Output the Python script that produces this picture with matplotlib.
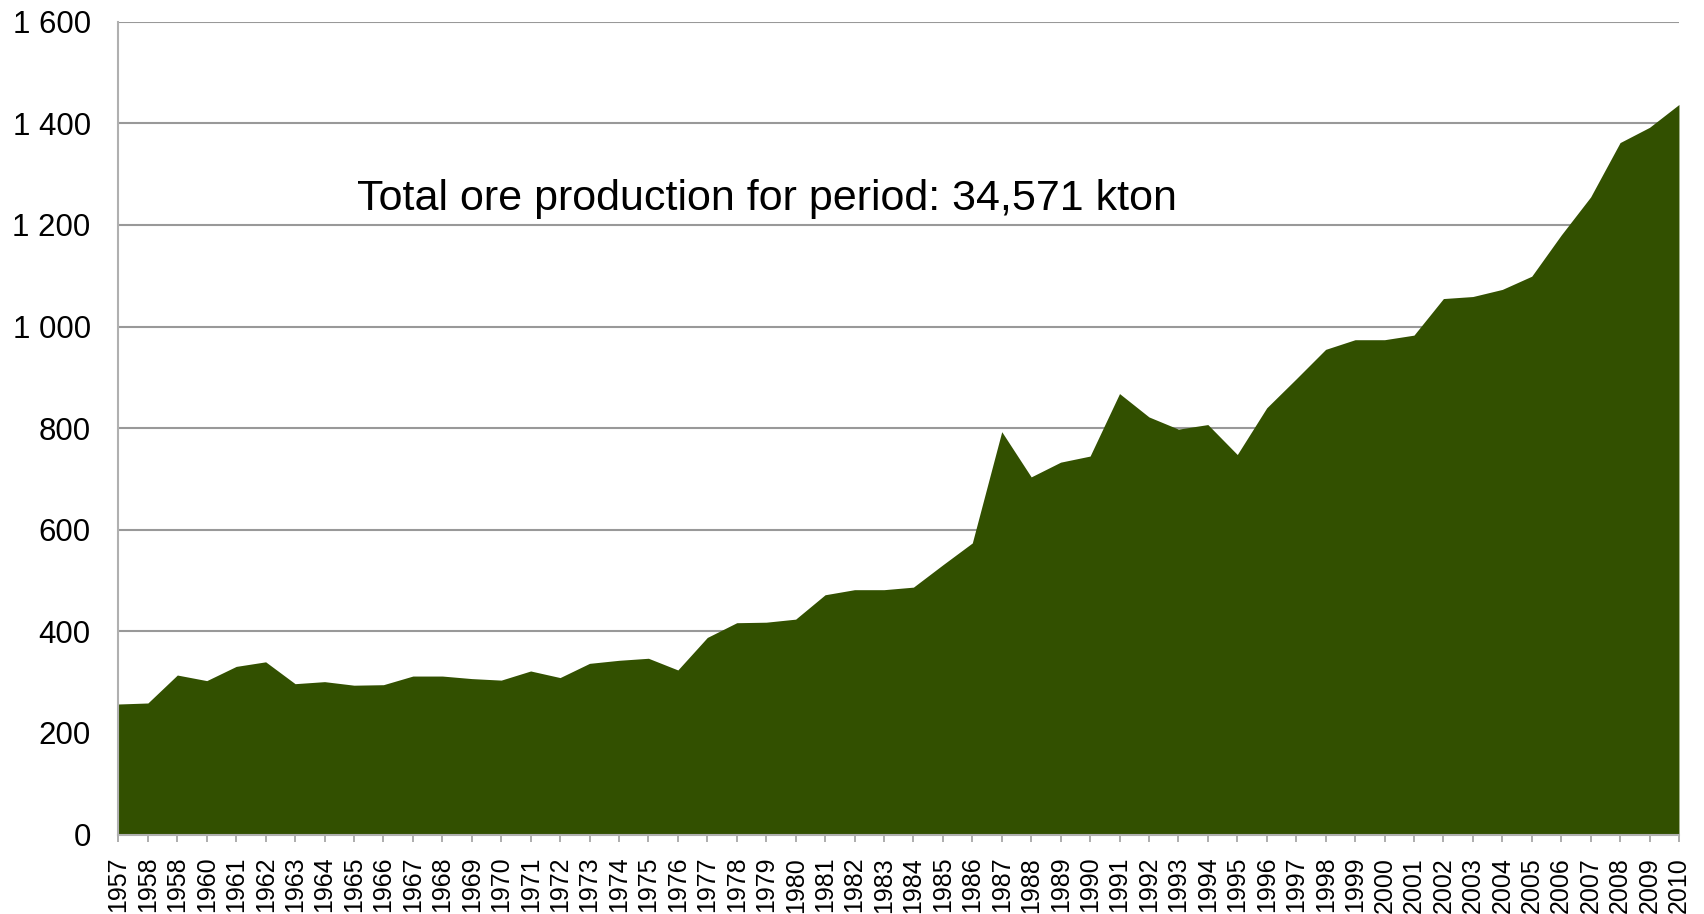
import matplotlib.pyplot as plt
import numpy as np

plt.rcParams['font.family'] = ['Liberation Sans', 'DejaVu Sans']

# år slik de står i originalen (1958 står to ganger)
years = ['1957', '1958', '1958', '1960', '1961', '1962', '1963', '1964', '1965', '1966',
         '1967', '1968', '1969', '1970', '1971', '1972', '1973', '1974', '1975', '1976',
         '1977', '1978', '1979', '1980', '1981', '1982', '1983', '1984', '1985', '1986',
         '1987', '1988', '1989', '1990', '1991', '1992', '1993', '1994', '1995', '1996',
         '1997', '1998', '1999', '2000', '2001', '2002', '2003', '2004', '2005', '2006',
         '2007', '2008', '2009', '2010']

ore_kton = [257, 259, 314, 303, 331, 340, 297, 301, 294, 295,
            312, 312, 307, 304, 322, 309, 337, 343, 347, 324,
            388, 417, 418, 424, 472, 482, 482, 487, 531, 574,
            793, 704, 733, 745, 868, 822, 798, 807, 748, 840,
            897, 955, 974, 974, 983, 1055, 1059, 1073, 1099, 1180,
            1255, 1362, 1392, 1437]

y_ticks = [0, 200, 400, 600, 800, 1000, 1200, 1400, 1600]
y_labels = ['0', '200', '400', '600', '800', '1 000', '1 200', '1 400', '1 600']

note = 'Total ore production for period: 34,571 kton'

fig = plt.figure(figsize=(17.04, 9.14), dpi=100)
ax = fig.add_axes([0.0695, 0.0869, 0.9158, 0.8894])

x = np.arange(len(years))
ax.fill_between(x, 0, ore_kton, color='#325000', linewidth=0, zorder=2)

ax.set_xlim(0, len(years) - 1)
ax.set_ylim(0, 1600)

ax.set_yticks(y_ticks)
ax.set_yticklabels(y_labels)
ax.set_xticks(x)
ax.set_xticklabels(years, rotation=90)

ax.grid(axis='y', color='#999999', linewidth=1.5, zorder=0)
ax.set_axisbelow(True)

for s in ['top', 'right']:
    ax.spines[s].set_visible(False)
for s in ['left', 'bottom']:
    ax.spines[s].set_color('#b0b0b0')
    ax.spines[s].set_linewidth(1.5)

ax.tick_params(axis='y', length=0, pad=20, labelsize=22.5)
ax.tick_params(axis='x', length=5, width=1.2, color='#a0a0a0', pad=11, labelsize=18)

ax.text(0.153, 0.782, note, transform=ax.transAxes, fontsize=31, va='center', ha='left')

fig.savefig('out.png', dpi=100)
